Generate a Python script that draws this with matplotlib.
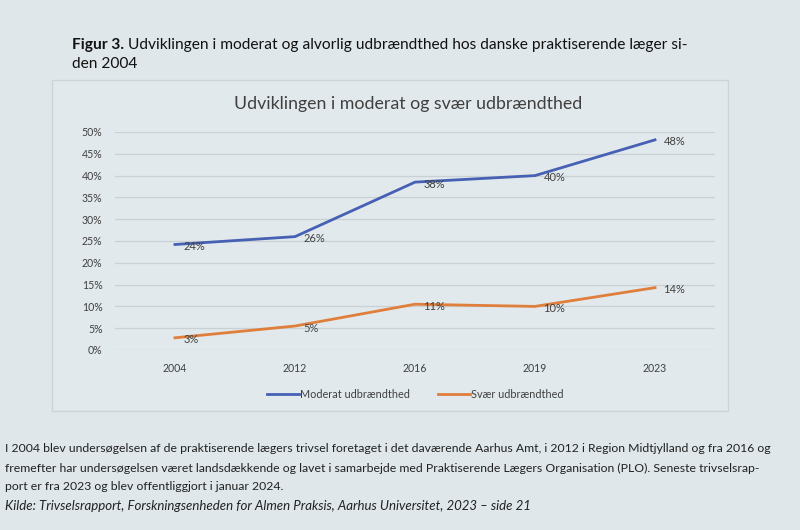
import matplotlib.pyplot as plt
from matplotlib.patches import Rectangle

# data
years = ['2004', '2012', '2016', '2019', '2023']
moderat = [24.2, 26.0, 38.5, 40.0, 48.2]
moderat_labels = ['24%', '26%', '38%', '40%', '48%']
svaer = [2.8, 5.5, 10.5, 10.0, 14.3]
svaer_labels = ['3%', '5%', '11%', '10%', '14%']
yticks = [0, 5, 10, 15, 20, 25, 30, 35, 40, 45, 50]

bg = '#dfe7ea'
blue = '#4660b4'
orange = '#e07e3c'
txt = '#404040'

W, H = 800, 530
fig = plt.figure(figsize=(8, 5.3), dpi=100, facecolor=bg)

# chart frame
fig.patches.append(Rectangle((52 / W, 1 - 411 / H), 676 / W, 331 / H,
                             transform=fig.transFigure, facecolor='#e2e9ec',
                             edgecolor='#ccd4d7', linewidth=1.0, zorder=-1))

ax = fig.add_axes([115 / W, 1 - 350 / H, 600 / W, 218 / H])
ax.set_zorder(2)
ax.set_facecolor('none')
x = range(len(years))
ax.plot(x, moderat, color=blue, lw=2.0, label='Moderat udbrændthed', zorder=3)
ax.plot(x, svaer, color=orange, lw=2.0, label='Svær udbrændthed', zorder=3)

for i in x:
    ax.annotate(moderat_labels[i], (i, moderat[i]), xytext=(6, -1.5),
                textcoords='offset points', ha='left', va='center',
                fontsize=8, color=txt, family='Lato', zorder=4)
    ax.annotate(svaer_labels[i], (i, svaer[i]), xytext=(6, -1.5),
                textcoords='offset points', ha='left', va='center',
                fontsize=8, color=txt, family='Lato', zorder=4)

ax.set_xlim(-0.5, len(years) - 0.5)
ax.set_ylim(0, 50)
ax.set_yticks(yticks)
ax.set_yticklabels([f'{v}%' for v in yticks])
ax.set_xticks(list(x))
ax.set_xticklabels(years)
ax.grid(axis='y', color='#c9d1d4', lw=0.9)
ax.set_axisbelow(True)
for s in ax.spines.values():
    s.set_visible(False)
ax.tick_params(length=0, labelsize=7.6, labelcolor=txt, pad=9)
for lab in ax.get_xticklabels() + ax.get_yticklabels():
    lab.set_family('Lato')

leg = ax.legend(loc='upper center', bbox_to_anchor=(0.5, -0.135), ncol=2,
                frameon=False, handlelength=3.0,
                handletextpad=0.05, columnspacing=2.6,
                prop={'family': 'Lato', 'size': 7.8})
for t in leg.get_texts():
    t.set_color(txt)

fig.text(408 / W, 1 - 104 / H, 'Udviklingen i moderat og svær udbrændthed',
         ha='center', va='center', fontsize=12.8, color=txt, family='Lato')

# figure caption above
t1 = fig.text(72 / W, 1 - 45 / H, 'Figur 3.', ha='left', va='center', fontsize=11.2,
              fontweight='bold', color='#111111', family='Lato')
ax.annotate(' Udviklingen i moderat og alvorlig udbrændthed hos danske praktiserende læger si-',
            xy=(1, 0), xycoords=t1, ha='left', va='bottom', fontsize=11.2,
            color='#111111', family='Lato', annotation_clip=False)
fig.text(72 / W, 1 - 64 / H, 'den 2004', ha='left', va='center', fontsize=11.2,
         color='#111111', family='Lato')

# note below
note = ['I 2004 blev undersøgelsen af de praktiserende lægers trivsel foretaget i det daværende Aarhus Amt, i 2012 i Region Midtjylland og fra 2016 og',
        'fremefter har undersøgelsen været landsdækkende og lavet i samarbejde med Praktiserende Lægers Organisation (PLO). Seneste trivselsrap-',
        'port er fra 2023 og blev offentliggjort i januar 2024.']
for k, line in enumerate(note):
    fig.text(5 / W, 1 - (449 + 19 * k) / H, line, ha='left', va='center',
             fontsize=8.85, color='#222222', family='Lato')
fig.text(5 / W, 1 - 506 / H,
         'Kilde: Trivselsrapport, Forskningsenheden for Almen Praksis, Aarhus Universitet, 2023 – side 21',
         ha='left', va='center', fontsize=9.5, color='#222222', style='italic',
         family='Lato')

fig.savefig('out.png', dpi=100, facecolor=bg)
